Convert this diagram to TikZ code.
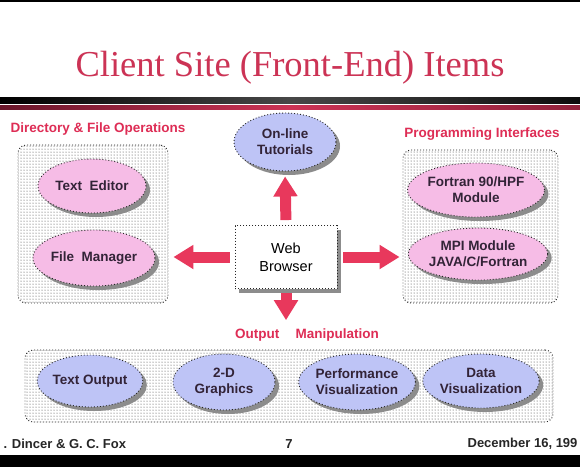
\documentclass[tikz,border=0pt]{standalone}
\usepackage{fontspec}
\setmainfont{Liberation Serif}
\setsansfont{Liberation Sans}
\usetikzlibrary{arrows.meta,shapes.geometric,shadows,patterns}
\definecolor{titlered}{RGB}{204,51,85}
\definecolor{labelred}{RGB}{222,45,85}
\definecolor{arrowred}{RGB}{232,56,92}
\definecolor{pinkfill}{RGB}{246,188,230}
\definecolor{bluefill}{RGB}{190,196,246}
\definecolor{inktext}{RGB}{50,35,55}
\definecolor{barmaroon}{RGB}{105,22,42}

\begin{document}
\begin{tikzpicture}[x=1pt, y=-1pt,
  dotline/.style={draw=black!85, line width=0.9pt, dash pattern=on 0.9pt off 2.1pt},
  item/.style={ellipse, dotline, inner sep=0pt, align=center, text=inktext,
    font=\sffamily\bfseries\fontsize{13.5}{16}\selectfont,
    drop shadow={shadow xshift=4pt, shadow yshift=-4pt, fill=black!45, opacity=1}},
  pinkitem/.style={item, fill=pinkfill},
  blueitem/.style={item, fill=bluefill},
  group/.style={rectangle, dotline, rounded corners=8pt, pattern=dots, pattern color=black!80, inner sep=0pt},
  heading/.style={font=\sffamily\bfseries\fontsize{13.5}{16}\selectfont, text=labelred},
  footer/.style={font=\sffamily\bfseries\fontsize{13}{15}\selectfont, text=black!85},
  bigarrow/.style={draw=arrowred, line width=11pt, -{Triangle[length=20pt,width=23pt]}}]

  \useasboundingbox (0,0) rectangle (580,467);
  \fill[white] (0,0) rectangle (580,467);

  % Frame and bars
  \fill[black] (0,0) rectangle (580,2);
  \fill[black] (0,455) rectangle (580,467);
  \shade[left color=black, right color=black!95, middle color=black!72] (0,97) rectangle (580,103);
  \shade[left color=barmaroon, right color=barmaroon!60!titlered, middle color=titlered] (0,105) rectangle (580,109);

  % Title
  \node[text=titlered, font=\fontsize{36.5}{40}\selectfont] (Title) at (290,68) {Client Site (Front-End) Items};

  % Groups
  \node[group, minimum width=150, minimum height=158] (DirGroup) at (93,224) {};
  \node[group, minimum width=155, minimum height=153] (ProgGroup) at (480.5,226.5) {};
  \node[group, minimum width=528, minimum height=72] (OutGroup) at (289,386) {};

  \node[heading] (DirLabel) at (98,129) {Directory \& File Operations};
  \node[heading] (ProgLabel) at (482,134) {Programming Interfaces};
  \node[heading] (OutLabel) at (307,335) {Output\hspace{1.2em}Manipulation};

  % Nodes
  \node[blueitem, minimum width=102, minimum height=58] (Tutorials) at (285,142) {On-line\\Tutorials};
  \node[rectangle, dotline, fill=white, minimum width=102, minimum height=63, align=center,
    font=\sffamily\fontsize{14.5}{18}\selectfont,
    drop shadow={shadow xshift=4pt, shadow yshift=-4pt, fill=black!45, opacity=1}] (Web) at (286,257) {Web\\Browser};

  \node[pinkitem, minimum width=108, minimum height=54] (Editor) at (92,186) {Text~ Editor};
  \node[pinkitem, minimum width=110, minimum height=56] (FileMgr) at (94,258) {File~ Manager};

  \node[pinkitem, minimum width=128, minimum height=54] (Fortran) at (476,190) {Fortran 90/HPF\\Module};
  \node[pinkitem, minimum width=122, minimum height=52] (MPI) at (478,254) {MPI Module\\JAVA/C/Fortran};

  \node[blueitem, minimum width=104, minimum height=52] (TextOut) at (90,381) {Text Output};
  \node[blueitem, minimum width=102, minimum height=56] (Graphics) at (224,382) {2-D\\Graphics};
  \node[blueitem, minimum width=106, minimum height=56] (PerfViz) at (357,382) {Performance\\Visualization};
  \node[blueitem, minimum width=106, minimum height=54] (DataViz) at (481,381) {Data\\Visualization};

  % Footer
  \node[footer, anchor=west] (Authors) at (0,444) {. Dincer \& G. C. Fox};
  \node[footer] (Page) at (289,444) {7};
  \node[footer, anchor=east] (Date) at (581,444) {December 16, 199};

  % Edges
  \draw[bigarrow, shorten <=5pt, shorten >=5pt] (Web.north) -- (Tutorials.south);
  \draw[bigarrow, shorten <=5pt, shorten >=5pt] (Web.west) -- (DirGroup.east |- Web.west);
  \draw[bigarrow, shorten <=6pt, shorten >=3pt] (Web.east) -- (ProgGroup.west |- Web.east);
  \draw[bigarrow, shorten <=4pt, shorten >=5pt] (Web.south) -- (OutLabel.north -| Web.south);
\end{tikzpicture}
\end{document}
